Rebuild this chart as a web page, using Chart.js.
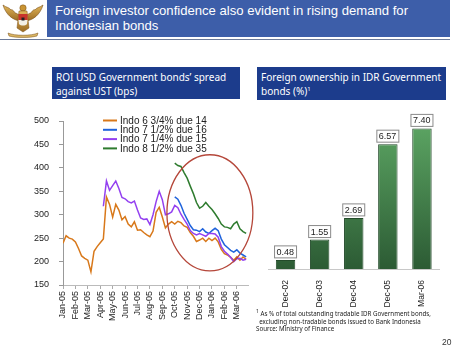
<!DOCTYPE html>
<html><head><meta charset="utf-8">
<script src="https://cdn.jsdelivr.net/npm/chart.js@4"></script>
<style>
html,body{margin:0;padding:0;background:#fff;width:474px;height:355px;overflow:hidden;position:relative;font-family:'Liberation Sans',Arial,sans-serif}
#bar{position:absolute;left:47px;top:0;width:403px;height:37px;background:#3d5ea9}
#title{position:absolute;left:55px;top:3px;color:#fff;font-size:13.1px;line-height:15px;white-space:nowrap}
#rule{position:absolute;left:0;top:39px;width:450px;height:1px;background:#6b7a99}
#logo{position:absolute;left:0;top:0}
.box{position:absolute;background:#1c3c8c;color:#fff;font-family:'Noto Sans',sans-serif;font-size:10px;line-height:14px;padding:3px 0 0 4px;box-sizing:border-box;white-space:nowrap}
#note{position:absolute;left:256px;top:310px;font-family:'Noto Sans',sans-serif;font-size:6.2px;line-height:7.5px;color:#222;white-space:nowrap}
#pg{position:absolute;left:442px;top:337px;font-size:8.5px;color:#333}
canvas{position:absolute}
</style></head>
<body>
<svg id="logo" width="46" height="39" viewBox="0 0 46 39">
  <defs><linearGradient id="gold" x1="0" y1="0" x2="0" y2="1"><stop offset="0" stop-color="#e2b75a"/><stop offset="1" stop-color="#9a6a22"/></linearGradient></defs>
  <path d="M20 21 C13 20 6 15 3 5 C7 8 9 7 11 10 C12 9 14 11 15 13 C17 13 18 15 20 15 Z" fill="url(#gold)" stroke="#7a4f18" stroke-width="0.6"/>
  <path d="M26 21 C33 20 40 15 43 5 C39 8 37 7 35 10 C34 9 32 11 31 13 C29 13 28 15 26 15 Z" fill="url(#gold)" stroke="#7a4f18" stroke-width="0.6"/>
  <circle cx="23" cy="8" r="3.2" fill="#c99432" stroke="#7a4f18" stroke-width="0.5"/>
  <path d="M19 11 L27 11 L29 28 L23 32 L17 28 Z" fill="url(#gold)" stroke="#7a4f18" stroke-width="0.5"/>
  <path d="M18.5 14 L27.5 14 L27.5 20 L18.5 20 Z" fill="#c8342c"/>
  <path d="M18.5 20 L27.5 20 L27 24 C25 26 21 26 19 24 Z" fill="#f2efe6"/>
  <rect x="21.5" y="17.5" width="3" height="3" fill="#222"/>
  <path d="M8 33 C15 36 31 36 38 33 L37 36 C30 38 16 38 9 36 Z" fill="#d9b563" stroke="#7a4f18" stroke-width="0.5"/>
</svg>
<div id="bar"></div>
<div id="title">Foreign investor confidence also evident in rising demand for<br>Indonesian bonds</div>
<div id="rule"></div>
<div class="box" style="left:52px;top:67px;width:188px;height:32px">ROI USD Government bonds’ spread<br>against UST (bps)</div>
<div class="box" style="left:257px;top:67px;width:189px;height:33px">Foreign ownership in IDR Government<br>bonds (%)<sup style="font-size:6px;line-height:0">1</sup></div>
<canvas id="line" width="258" height="250" style="left:0;top:105px"></canvas>
<canvas id="bars" width="212" height="215" style="left:262px;top:105px"></canvas>
<div id="note"><sup style="font-size:5px;line-height:0">1</sup> As % of total outstanding tradable IDR Government bonds,<br>&nbsp;&nbsp;excluding non-tradable bonds issued to Bank Indonesia<br>Source: Ministry of Finance</div>
<div id="pg">20</div>
<script>
// ---- Line chart data (x = months since Jan-05) ----
const monthLabels = ['Jan-05','Feb-05','Mar-05','Apr-05','May-05','Jun-05','Jul-05','Aug-05','Sep-05','Oct-05','Nov-05','Dec-05','Jan-06','Feb-06','Mar-06'];
const weekPos = [0,0.25,0.5,0.75,1,1.25,1.5,1.75,2,2.25,2.5,2.75,3,3.25,3.5,3.75,4,4.25,4.5,4.75,5,5.25,5.5,5.75,6,6.25,6.5,6.75,7,7.25,7.5,7.75,8,8.25,8.5,8.75,9,9.25,9.5,9.75,10,10.25,10.5,10.75,11,11.25,11.5,11.75,12,12.25,12.5,12.75,13,13.25,13.5,13.75,14,14.25,14.5,14.75];
const seriesNames = ['Indo 6 3/4% due 14','Indo 7 1/2% due 16','Indo 7 1/4% due 15','Indo 8 1/2% due 35'];
const indo14 = [239,255,250,248,242,228,212,207,203,178,222,232,240,248,338,322,295,322,310,289,296,280,274,285,267,268,262,257,253,265,305,316,295,272,280,285,280,286,283,276,273,262,254,243,246,250,243,250,245,250,242,226,217,214,209,203,210,203,210,205];
const indo16 = [null,null,null,null,null,null,null,null,null,null,null,null,null,null,null,null,null,null,null,null,null,null,null,null,null,null,null,null,null,null,null,null,null,null,null,null,338,333,320,303,290,277,268,267,264,270,263,260,266,271,266,248,236,230,224,220,225,218,214,210];
const indo15 = [null,null,null,null,null,null,null,null,null,null,null,null,null,318,372,352,362,372,356,337,334,328,325,329,310,293,290,291,279,300,328,350,332,300,302,306,320,315,301,290,280,266,260,257,260,257,254,260,260,259,252,232,222,216,209,200,206,207,203,205];
const indo35 = [null,null,null,null,null,null,null,null,null,null,null,null,null,null,null,null,null,null,null,null,null,null,null,null,null,null,null,null,null,null,null,null,null,null,null,null,410,405,403,390,378,361,345,326,314,318,326,318,311,302,292,280,274,273,270,280,285,270,264,260];
const yTicks = [150,200,250,300,350,400,450,500];
// highlight ellipse (center month, center bps, half-width months, half-height bps)
const ring = {cx:11.83, cy:304, rx:3.46, ry:124};

// ---- Bar chart data ----
const barLabels = ['Dec-02','Dec-03','Dec-04','Dec-05','Mar-06'];
const barValues = [0.48,1.55,2.69,6.57,7.40];

const colors = ['#d8781a','#1f63dc','#9340f0','#2e7b2e'];
const seriesData = [indo14, indo16, indo15, indo35];

function pts(arr){ return arr.map((v,i)=>({x:weekPos[i], y:v})); }

const legendIn = {
  id:'legendIn',
  afterDatasetsDraw(chart){
    const c = chart.ctx, a = chart.chartArea;
    c.save();
    c.font = '10px "Liberation Sans", Arial, sans-serif';
    c.textBaseline = 'middle';
    seriesNames.forEach((n,i)=>{
      const y = a.top - 0.5 + i*9.3;
      c.strokeStyle = colors[i]; c.lineWidth = 2;
      c.beginPath(); c.moveTo(a.left+40, y); c.lineTo(a.left+54, y); c.stroke();
      c.fillStyle = '#222'; c.fillText(n, a.left+57, y+0.5);
    });
    c.restore();
  }
};
const ellipse = {
  id:'ellipse',
  afterDraw(chart){
    const xs = chart.scales.x, ys = chart.scales.y, c = chart.ctx;
    const cx = xs.getPixelForValue(ring.cx), cy = ys.getPixelForValue(ring.cy);
    const rx = xs.getPixelForValue(ring.cx+ring.rx) - cx;
    const ry = cy - ys.getPixelForValue(ring.cy+ring.ry);
    c.save(); c.strokeStyle = '#b5473a'; c.lineWidth = 1.3;
    c.beginPath(); c.ellipse(cx, cy, rx, ry, 0, 0, Math.PI*2); c.stroke(); c.restore();
  }
};

new Chart(document.getElementById('line'), {
  type:'line',
  data:{ datasets: seriesNames.map((n,i)=>({
    label:n, data:pts(seriesData[i]), borderColor:colors[i], borderWidth:1.5,
    pointRadius:0, tension:0, spanGaps:false, fill:false
  })).reverse() },
  options:{
    responsive:false, animation:false, devicePixelRatio:1,
    layout:{padding:{top:16,right:10,left:0,bottom:0}},
    plugins:{legend:{display:false}, tooltip:{enabled:false}},
    scales:{
      x:{type:'linear', min:0, max:14.9,
        afterFit(s){ s.height = 70; },
        afterBuildTicks(s){ s.ticks = monthLabels.map((l,i)=>({value:i})); },
        ticks:{ autoSkip:false, minRotation:90, maxRotation:90, padding:2, color:'#222',
          font:{family:'"Liberation Sans", Arial', size:9}, callback:(v)=>monthLabels[v] },
        grid:{drawOnChartArea:false, tickLength:4, color:'#aaa'},
        border:{color:'#bbb'} },
      y:{min:150, max:500,
        afterFit(s){ s.width = 63; },
        afterBuildTicks(s){ s.ticks = yTicks.map(v=>({value:v})); },
        ticks:{ padding:10, color:'#222', font:{family:'"Liberation Sans", Arial', size:9} },
        grid:{drawOnChartArea:false, tickLength:4, color:'#999'},
        border:{color:'#999'} }
    }
  },
  plugins:[legendIn, ellipse]
});

const valueBoxes = {
  id:'valueBoxes',
  afterDatasetsDraw(chart){
    const c = chart.ctx, meta = chart.getDatasetMeta(0);
    c.save();
    c.font = '9px "Liberation Sans", Arial, sans-serif';
    c.textBaseline = 'middle';
    meta.data.forEach((el,i)=>{
      const w = 23, h = 13, x = el.x - w/2, y = el.y - 1.5 - h;
      c.fillStyle = '#fff'; c.fillRect(x, y, w, h);
      c.strokeStyle = '#8a8a8a'; c.lineWidth = 1; c.strokeRect(x+0.5, y+0.5, w-1, h-1);
      c.fillStyle = '#222'; c.fillText(barValues[i].toFixed(2), x+2.5, y+h/2+0.5);
    });
    c.restore();
  }
};

new Chart(document.getElementById('bars'), {
  type:'bar',
  data:{ labels:barLabels, datasets:[{
    data:barValues,
    backgroundColor(ctx){
      const a = ctx.chart.chartArea; if(!a) return '#3f8a48';
      const g = ctx.chart.ctx.createLinearGradient(0, a.top, 0, a.bottom);
      g.addColorStop(0,'#5ea865'); g.addColorStop(1,'#2c5b34'); return g;
    },
    borderColor:'#234a2a', borderWidth:1, borderSkipped:'bottom',
    barPercentage:0.57, categoryPercentage:1
  }]},
  options:{
    responsive:false, animation:false, devicePixelRatio:1,
    layout:{padding:{top:12,left:6.5,right:35,bottom:0}},
    plugins:{legend:{display:false}, tooltip:{enabled:false}},
    scales:{
      x:{ afterFit(s){ s.height = 51; },
        ticks:{ autoSkip:false, minRotation:90, maxRotation:90, padding:3, color:'#222',
          font:{family:'"Liberation Sans", Arial', size:8.5} },
        grid:{display:false}, border:{color:'#c8c8c8'} },
      y:{ display:false, min:0, max:8 }
    }
  },
  plugins:[valueBoxes]
});
</script>
</body></html>
